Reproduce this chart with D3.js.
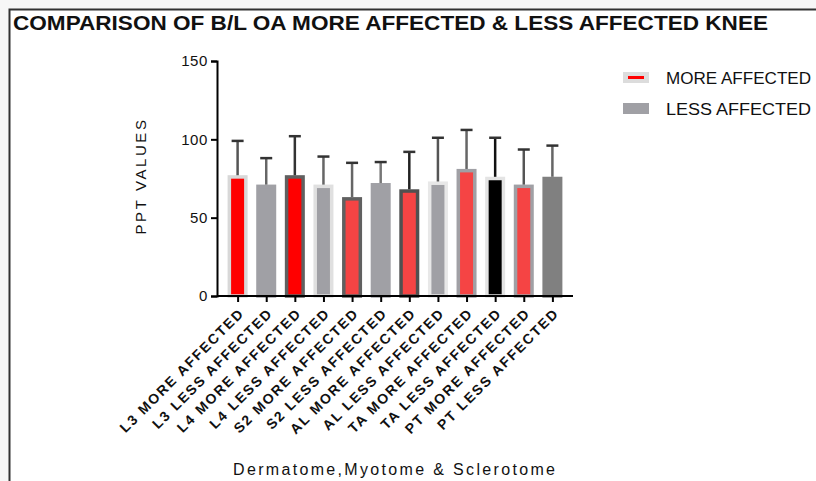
<!DOCTYPE html>
<html>
<head>
<meta charset="utf-8">
<script src="https://cdn.jsdelivr.net/npm/d3@7"></script>
<style>
  html, body { margin: 0; padding: 0; background: #f7f7f7; }
  svg { display: block; }
</style>
</head>
<body>
<svg id="chart" width="816" height="481"></svg>
<script>
// chart values
var categories = [
  'L3 MORE AFFECTED', 'L3 LESS AFFECTED',
  'L4 MORE AFFECTED', 'L4 LESS AFFECTED',
  'S2 MORE AFFECTED', 'S2 LESS AFFECTED',
  'AL MORE AFFECTED', 'AL LESS AFFECTED',
  'TA MORE AFFECTED', 'TA LESS AFFECTED',
  'PT MORE AFFECTED', 'PT LESS AFFECTED'
];
var means = [76, 70, 76, 70, 62, 71, 67, 72, 80, 75, 70, 75];
var sds   = [23, 18, 26, 19, 23, 14.5, 25, 29, 26, 26, 23.5, 21];
var yTicks = [0, 50, 100, 150];
var legendLabels = ['MORE AFFECTED', 'LESS AFFECTED'];

var fills   = ['#ff0000', '#a0a0a5', '#ff0000', '#a0a0a5', '#f54444', '#a0a0a5',
               '#f54444', '#a0a0a5', '#f54444', '#000000', '#f54444', '#808080'];
var strokes = ['#d8d8d8', '#a0a0a5', '#606060', '#e0e0e0', '#606060', '#a0a0a5',
               '#505050', '#e8e8e8', '#a0a0a5', '#e4e4e4', '#a0a0a5', '#808080'];
var errColors = ['#555', '#666', '#333', '#666', '#666', '#777',
                 '#222', '#555', '#666', '#111', '#555', '#666'];

var svg = d3.select('#chart');
var font = '"Liberation Sans", Arial, sans-serif';

// frame
svg.append('rect')
  .attr('x', 9).attr('y', 9).attr('width', 807).attr('height', 472)
  .attr('fill', '#fff');
svg.append('path')
  .attr('d', 'M9.5,481V9.5H816')
  .attr('fill', 'none').attr('stroke', '#333').attr('stroke-width', 2);

// title
svg.append('text')
  .attr('x', 13).attr('y', 30)
  .attr('font-family', '"Liberation Sans Narrow", "Arial Narrow", ' + font)
  .attr('font-weight', 'bold')
  .attr('font-size', 21)
  .attr('textLength', 755)
  .attr('lengthAdjust', 'spacingAndGlyphs')
  .attr('fill', '#111')
  .text('COMPARISON OF B/L OA MORE AFFECTED & LESS AFFECTED KNEE');

var margin = {left: 217, top: 61, right: 243, bottom: 185};
var width = 816 - margin.left - margin.right,
    height = 481 - margin.top - margin.bottom;

var g = svg.append('g')
  .attr('transform', 'translate(' + margin.left + ',' + margin.top + ')');

var x = d3.scalePoint()
  .domain(categories)
  .range([0, width])
  .padding(0.72);

var y = d3.scaleLinear()
  .domain([0, 150])
  .range([height, 0]);

var barW = 16.5;

// bars
g.selectAll('rect.bar')
  .data(means)
  .enter().append('rect')
    .attr('class', 'bar')
    .attr('x', function(d, i) { return x(categories[i]) - barW / 2; })
    .attr('y', function(d) { return y(d); })
    .attr('width', barW)
    .attr('height', function(d) { return y(0) - y(d); })
    .attr('fill', function(d, i) { return fills[i]; })
    .attr('stroke', function(d, i) { return strokes[i]; })
    .attr('stroke-width', 3.5);

// error bars (upper only)
var err = g.selectAll('g.err')
  .data(means)
  .enter().append('g')
    .attr('class', 'err');

err.append('line')
  .attr('x1', function(d, i) { return x(categories[i]); })
  .attr('x2', function(d, i) { return x(categories[i]); })
  .attr('y1', function(d) { return y(d) - 1.7; })
  .attr('y2', function(d, i) { return y(d + sds[i]); })
  .attr('stroke', function(d, i) { return errColors[i]; })
  .attr('stroke-width', 2.5);

err.append('line')
  .attr('x1', function(d, i) { return x(categories[i]) - 6; })
  .attr('x2', function(d, i) { return x(categories[i]) + 6; })
  .attr('y1', function(d, i) { return y(d + sds[i]); })
  .attr('y2', function(d, i) { return y(d + sds[i]); })
  .attr('stroke', '#333')
  .attr('stroke-width', 2.5);

// y axis
var yAxis = g.append('g')
  .call(d3.axisLeft(y).tickValues(yTicks).tickSize(6).tickPadding(3));
yAxis.select('.domain').attr('stroke', '#000').attr('stroke-width', 2);
yAxis.selectAll('.tick line').attr('stroke', '#000').attr('stroke-width', 2);
yAxis.selectAll('.tick text')
  .attr('font-family', font)
  .attr('font-size', 15)
  .attr('letter-spacing', 0.6)
  .attr('fill', '#111');

// x axis
var xAxis = g.append('g')
  .attr('transform', 'translate(0,' + height + ')')
  .call(d3.axisBottom(x).tickSize(6).tickSizeOuter(0));
xAxis.select('.domain').attr('stroke', '#000').attr('stroke-width', 2)
  .attr('d', 'M0,0H' + width);
xAxis.selectAll('.tick line').attr('stroke', '#000').attr('stroke-width', 2);
xAxis.selectAll('.tick text')
  .attr('font-family', font)
  .attr('font-weight', 'bold')
  .attr('font-size', 14)
  .attr('letter-spacing', 1.8)
  .attr('fill', '#111')
  .attr('text-anchor', 'end')
  .attr('dy', null)
  .attr('y', 0)
  .attr('transform', 'translate(7,18) rotate(-45)');

// axis titles
svg.append('text')
  .attr('transform', 'translate(146,176) rotate(-90)')
  .attr('text-anchor', 'middle')
  .attr('font-family', font)
  .attr('font-size', 15)
  .attr('letter-spacing', 2.6)
  .attr('fill', '#111')
  .text('PPT VALUES');

svg.append('text')
  .attr('x', 233).attr('y', 475)
  .attr('font-family', font)
  .attr('font-size', 16)
  .attr('textLength', 322)
  .attr('lengthAdjust', 'spacing')
  .attr('fill', '#111')
  .text('Dermatome,Myotome & Sclerotome');

// legend
var lg = svg.append('g');
lg.append('rect')
  .attr('x', 623).attr('y', 72).attr('width', 26).attr('height', 11)
  .attr('fill', '#dcdcdc');
lg.append('rect')
  .attr('x', 628).attr('y', 76).attr('width', 16).attr('height', 3)
  .attr('fill', '#ff0000');
lg.append('rect')
  .attr('x', 623).attr('y', 103).attr('width', 26).attr('height', 11)
  .attr('fill', '#a0a0a5');

lg.selectAll('text')
  .data(legendLabels)
  .enter().append('text')
    .attr('x', 666)
    .attr('y', function(d, i) { return 84 + i * 31; })
    .attr('font-family', font)
    .attr('font-size', 16)
    .attr('textLength', 145)
    .attr('lengthAdjust', 'spacingAndGlyphs')
    .attr('fill', '#111')
    .text(function(d) { return d; });
</script>
</body>
</html>
